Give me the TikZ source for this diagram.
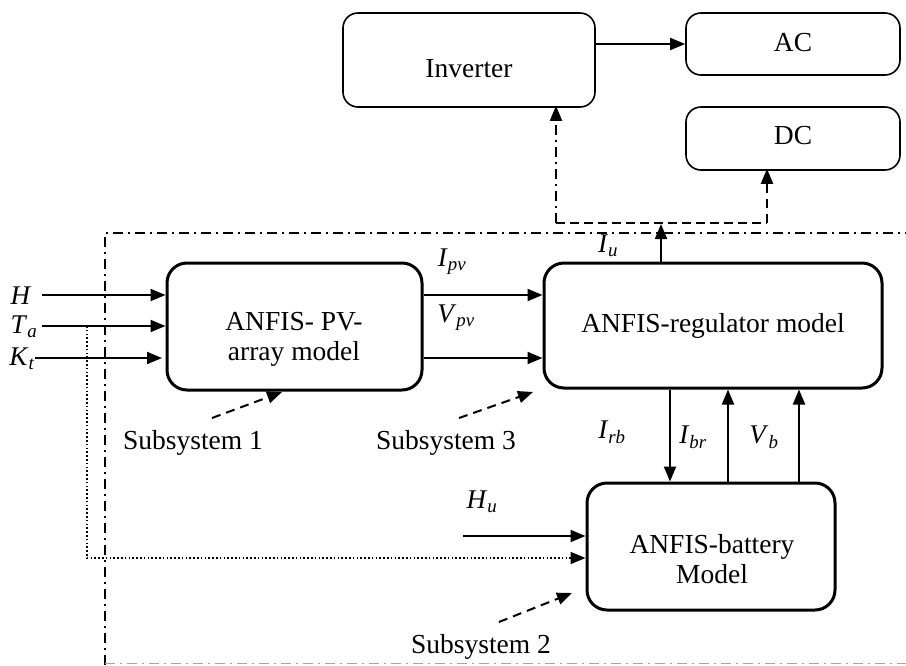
\documentclass[tikz,border=0pt]{standalone}
\usepackage{fontspec}
\setmainfont{Liberation Serif}
\usetikzlibrary{arrows.meta}
\newcommand{\lab}[2]{\textit{#1}\textsubscript{\textit{#2}}}
\tikzset{
  bigbox/.style={draw, line width=3pt, rounded corners=20pt, inner sep=0pt},
  smallbox/.style={draw, line width=1.6pt, rounded corners=15pt, inner sep=0pt},
  boxtext/.style={align=center, inner sep=0pt, font=\fontsize{27.5}{30}\selectfont},
  arr/.style={line width=2pt, -{Triangle[length=15pt,width=12pt]}},
  dasharr/.style={line width=2pt, dash pattern=on 9pt off 6pt, -{Triangle[length=15pt,width=12pt]}},
  dashln/.style={line width=2pt, dash pattern=on 9pt off 5pt},
  dashdot/.style={line width=1.8pt, dash pattern=on 10pt off 5pt on 2pt off 5pt},
  dotln/.style={line width=1.8pt, dash pattern=on 1.6pt off 2.2pt},
  lbl/.style={inner sep=0pt, font=\fontsize{27}{30}\selectfont},
  sublbl/.style={inner sep=0pt, font=\fontsize{27.5}{30}\selectfont},
}
\begin{document}
\begin{tikzpicture}[x=1pt,y=-1pt]
\useasboundingbox (0,0) rectangle (906,665);
% boxes
\node[smallbox, minimum width=252pt, minimum height=94pt] (inv) at (469,60) {};
\node[boxtext] (invt) at (469,69) {Inverter};
\node[smallbox, minimum width=214pt, minimum height=62pt] (ac) at (793,44) {};
\node[boxtext] (act) at (793,43) {AC};
\node[smallbox, minimum width=214pt, minimum height=63pt] (dc) at (793,138.5) {};
\node[boxtext] (dct) at (793,136) {DC};
\node[bigbox, minimum width=255pt, minimum height=127pt] (pv) at (294.5,326.5) {};
\node[boxtext] (pvt) at (294,339) {ANFIS- PV-\\array model};
\node[bigbox, minimum width=338pt, minimum height=125pt] (reg) at (713,325.5) {};
\node[boxtext] (regt) at (713,326) {ANFIS-regulator model};
\node[bigbox, minimum width=248pt, minimum height=127pt] (bat) at (711,546.5) {};
\node[boxtext] (batt) at (712,559) {ANFIS-battery\\Model};
% frame
\coordinate (fbl) at (105,665);
\coordinate (ftl) at (105,233);
\coordinate (ftr) at (906,233);
\draw[dashdot] (fbl) -- (ftl) -- (ftr);
\draw[dashdot, line width=0.8pt, black!35] (105,663) -- (906,663);
% input labels
\node[lbl] (H) at (21,296) {\textit{H}};
\node[lbl] (Ta) at (24,327) {\lab{T}{a}};
\node[lbl] (Kt) at (22,359) {\lab{K}{t}};
\coordinate (hin) at (42,295);
\coordinate (tin) at (42,326);
\coordinate (kin) at (35,358);
\draw[arr] (hin) -- (pv.west |- hin);
\draw[arr] (tin) -- (pv.west |- tin);
\draw[arr] (kin) -- (162,358);
% dotted
\coordinate (d1) at (87,326);
\coordinate (d2) at (87,558);
\draw[dotln, -{Triangle[length=15pt,width=12pt]}] (d1) -- (d2) -- (bat.west |- d2);
% PV to regulator
\draw[arr] (pv.east |- hin) -- (reg.west |- hin);
\draw[arr] (pv.east |- kin) -- (reg.west |- kin);
\node[lbl] (ipv) at (452,262) {\lab{I}{pv}};
\node[lbl] (vpv) at (456,318) {\lab{V}{pv}};
% Iu
\coordinate (iutop) at (661,224);
\draw[arr] (reg.north -| iutop) -- (iutop);
\node[lbl] (iu) at (608,246) {\lab{I}{u}};
% dashed to DC and inverter
\coordinate (j1) at (556,223);
\coordinate (j2) at (767,223);
\draw[dashln] (j1) -- (j2);
\draw[dasharr] (j2) -- ([yshift=2pt]dc.south -| j2);
\draw[dashdot, -{Triangle[length=15pt,width=12pt]}] (j1) -- ([yshift=2pt]inv.south -| j1);
% inverter to AC
\draw[arr] (inv.east |- ac.west) -- (ac.west);
% regulator <-> battery
\coordinate (c1) at (670,0);
\coordinate (c2) at (728,0);
\coordinate (c3) at (799,0);
\draw[arr] (reg.south -| c1) -- (bat.north -| c1);
\draw[arr] (bat.north -| c2) -- (reg.south -| c2);
\draw[arr] (bat.north -| c3) -- (reg.south -| c3);
\node[lbl] (irb) at (612,432) {\lab{I}{rb}};
\node[lbl] (ibr) at (693,437) {\lab{I}{br}};
\node[lbl] (vb) at (764,437) {\lab{V}{b}};
% Hu
\node[lbl] (hu) at (482,502) {\lab{H}{u}};
\coordinate (huin) at (463,536);
\draw[arr] (huin) -- (bat.west |- huin);
% subsystems
\node[sublbl] (s1) at (193,443) {Subsystem 1};
\node[sublbl] (s3) at (446,443) {Subsystem 3};
\node[sublbl] (s2) at (481,647) {Subsystem 2};
\coordinate (a1s) at (212,418); \coordinate (a1e) at (282,392);
\coordinate (a3s) at (459,418); \coordinate (a3e) at (533,392);
\coordinate (a2s) at (499,622); \coordinate (a2e) at (572,593);
\draw[dasharr] (a1s) -- (a1e);
\draw[dasharr] (a3s) -- (a3e);
\draw[dasharr] (a2s) -- (a2e);
\end{tikzpicture}
\end{document}
